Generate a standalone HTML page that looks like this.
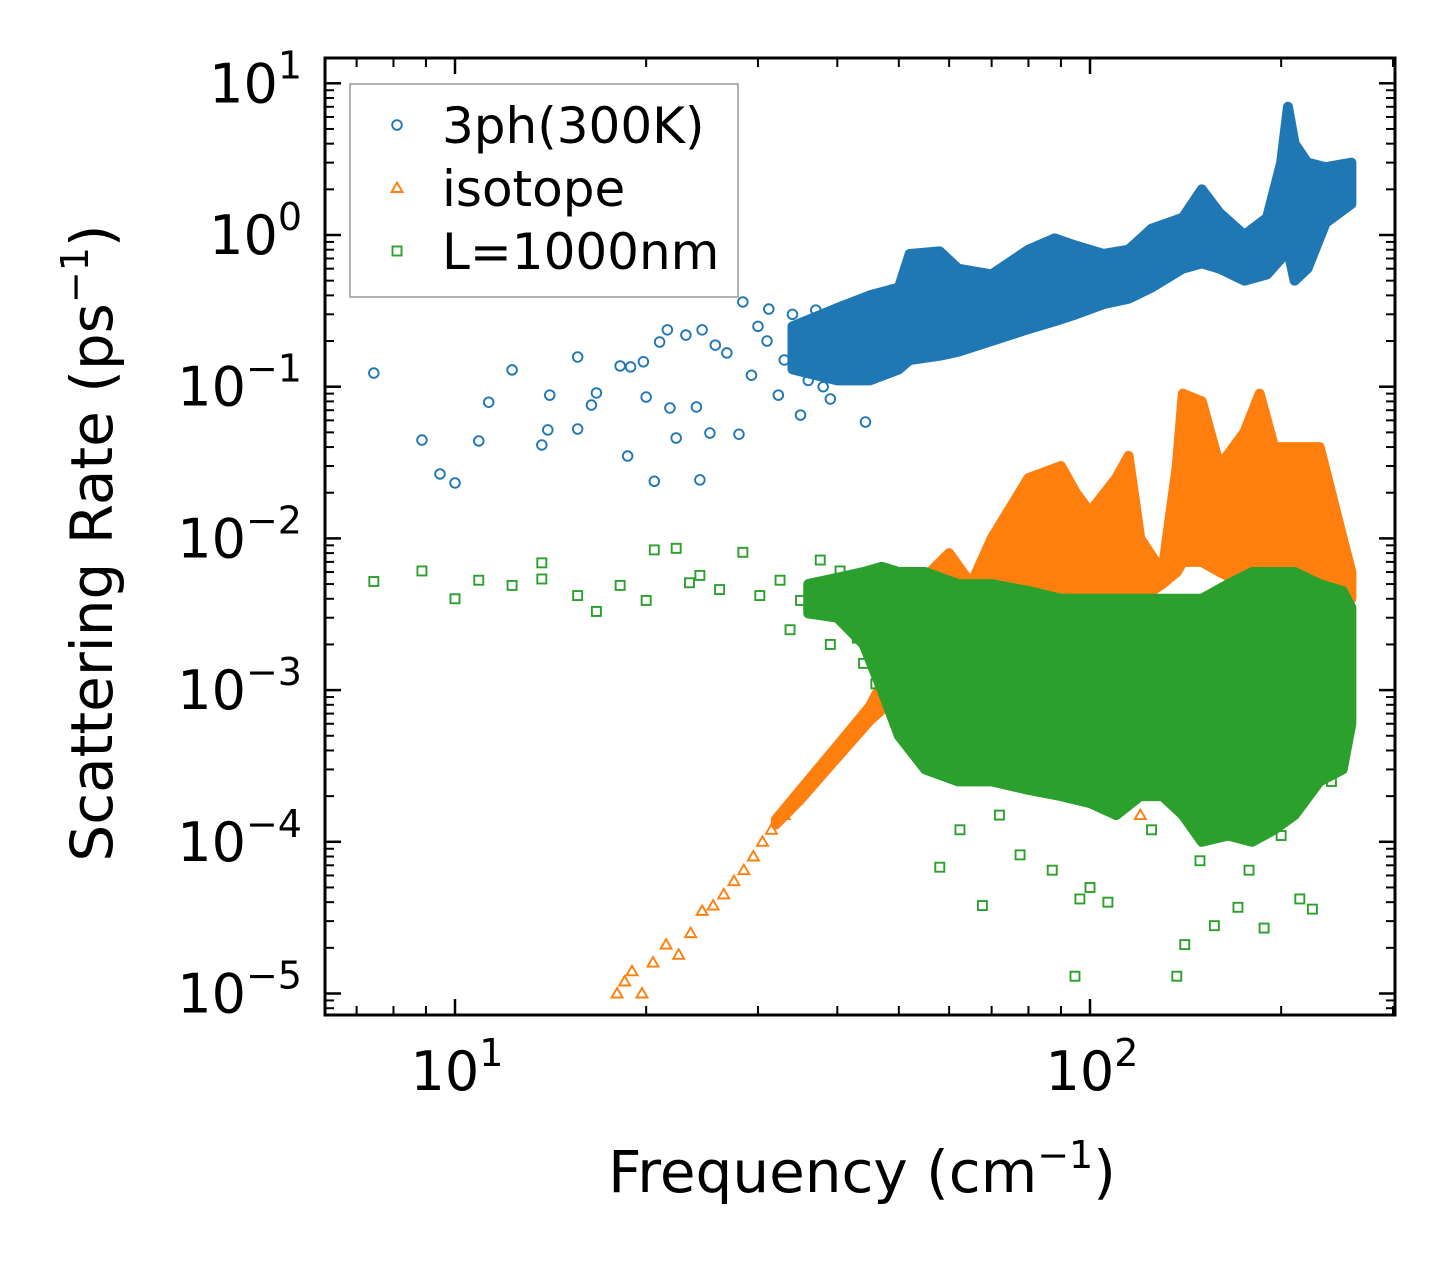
<!DOCTYPE html>
<html><head><meta charset="utf-8"><style>
html,body{margin:0;padding:0;background:#fff;}
svg{display:block;font-family:"DejaVu Sans","Liberation Sans",sans-serif;}
</style></head><body>
<svg id="chart" width="1455" height="1265" viewBox="0 0 1455 1265" xmlns="http://www.w3.org/2000/svg">
<defs><clipPath id="clip"><rect x="325" y="58" width="1070" height="957"/></clipPath></defs>
<rect x="0" y="0" width="1455" height="1265" fill="#fff"/>
<g id="plot" clip-path="url(#clip)"></g>
<g id="axes"></g>
<g id="legend"></g>
</svg>
<script>
// ---- data ----
const blueFreq = [7.45,8.87,9.47,10,10.9,11.3,12.3,13.7,14.0,14.1,15.6,15.6,16.4,16.7,18.2,18.7,18.9,19.8,20.0,20.6,21.0,21.6,21.8,22.3,23.1,24.0,24.3,24.5,25.2,25.7,26.8,28.0,28.4,29.3,31.2,32.3,35.0,39.0,44.3,30,31,33,34,36,37,38];
const blueVal = [0.123,0.0445,0.0266,0.0232,0.0439,0.079,0.129,0.0413,0.0519,0.088,0.157,0.0526,0.0757,0.0909,0.137,0.0349,0.135,0.146,0.0855,0.0238,0.197,0.237,0.0724,0.0459,0.219,0.0735,0.0243,0.237,0.0495,0.188,0.167,0.0486,0.362,0.119,0.325,0.088,0.065,0.083,0.0585,0.25,0.2,0.15,0.3,0.11,0.32,0.1];
const blueBandFreq = [34,40,45,50,52,58,62,70,80,88,95,105,115,125,140,150,160,175,190,200,205,210,220,235,258];
const blueBandLow  = [0.13,0.11,0.11,0.13,0.15,0.16,0.17,0.2,0.24,0.27,0.3,0.35,0.38,0.45,0.6,0.65,0.6,0.5,0.55,0.7,0.8,0.5,0.6,1.2,1.6];
const blueBandHigh = [0.25,0.33,0.4,0.45,0.75,0.78,0.6,0.55,0.8,0.95,0.85,0.75,0.8,1.1,1.3,2.0,1.4,1.0,1.3,3.0,7.0,4.0,3.0,2.8,3.0];

const orangeFreq = [18.0,18.5,19,19.7,20.5,21.5,22.5,23.5,24.5,25.5,26.5,27.5,28.5,29.5,30.5,31.5,33,34.5,36,37.5,39,40.5,42,43.5,45,46.5,48,120,130,100];
const orangeVal = [1.0e-5,1.2e-5,1.4e-5,1.0e-5,1.6e-5,2.1e-5,1.8e-5,2.5e-5,3.5e-5,3.8e-5,4.5e-5,5.5e-5,6.5e-5,8e-5,1.0e-4,1.2e-4,1.5e-4,1.9e-4,2.4e-4,2.9e-4,3.5e-4,4.2e-4,5.0e-4,6.0e-4,7e-4,8.5e-4,1.0e-3,1.5e-4,2.5e-4,3e-4];
const orangeBandFreq = [32,35,40,45,48,52,56,60,65,70,80,90,95,100,110,115,120,130,137,140,150,160,175,185,195,210,230,250,258];
const orangeBandLow  = [1.3e-4,1.9e-4,3.6e-4,6.3e-4,8e-4,8e-4,1e-3,1.5e-3,1.8e-3,2e-3,2.5e-3,3e-3,3e-3,3e-3,3e-3,3.5e-3,4e-3,5e-3,6e-3,7e-3,7e-3,6e-3,5e-3,4e-3,3e-3,3e-3,3e-3,3.5e-3,4e-3];
const orangeBandHigh = [1.4e-4,2.2e-4,4.3e-4,7.8e-4,1.3e-3,4e-3,6e-3,8e-3,5e-3,1e-2,2.5e-2,3e-2,2e-2,1.5e-2,2.5e-2,3.5e-2,1e-2,6e-3,3e-2,9e-2,8e-2,3e-2,5e-2,9e-2,4e-2,4e-2,4e-2,1e-2,6e-3];

const greenFreq = [7.45,8.87,10,10.9,12.3,13.7,13.7,15.6,16.7,18.2,20.0,20.6,22.3,24.3,28.4,23.4,26.1,30.2,32.5,35,37.6,40.4,41.8,33.7,39,62.4,67.7,77.6,87.2,100,96.4,106.7,94.7,141,137,157,171,188,214,224,149,178,58,72,125,200,240,255,44,46,43];
const greenVal = [5.2e-3,6.1e-3,4.0e-3,5.3e-3,4.9e-3,5.4e-3,6.9e-3,4.2e-3,3.3e-3,4.9e-3,3.9e-3,8.4e-3,8.6e-3,5.7e-3,8.1e-3,5.1e-3,4.6e-3,4.2e-3,5.3e-3,3.9e-3,7.2e-3,6.1e-3,3.9e-3,2.5e-3,2e-3,1.2e-4,3.8e-5,8.2e-5,6.5e-5,5e-5,4.2e-5,4e-5,1.3e-5,2.1e-5,1.3e-5,2.8e-5,3.7e-5,2.7e-5,4.2e-5,3.6e-5,7.5e-5,6.5e-5,6.8e-5,1.5e-4,1.2e-4,1.1e-4,2.5e-4,6e-4,1.5e-3,1.1e-3,2.2e-3];
const greenBandFreq = [36,40,44,47,50,55,62,70,80,90,100,110,120,130,140,150,165,180,195,210,230,250,258];
const greenBandLow  = [3.2e-3,3e-3,2e-3,1e-3,5e-4,3e-4,2.5e-4,2.5e-4,2.2e-4,2e-4,1.8e-4,1.5e-4,2e-4,2e-4,1.5e-4,1e-4,1.1e-4,1e-4,1.2e-4,1.5e-4,2.5e-4,3e-4,6e-4];
const greenBandHigh = [5e-3,5.5e-3,6e-3,6.5e-3,6e-3,6e-3,5e-3,5e-3,4.5e-3,4e-3,4e-3,4e-3,4e-3,4e-3,4e-3,4e-3,5e-3,6e-3,6e-3,6e-3,5e-3,4.5e-3,3.5e-3];

const yTickExp = [1,0,-1,-2,-3,-4,-5];
const xTickExp = [1,2];

// ---- axes functions ----
const L=325,R=1395,T=58,B=1015;
const X = f => 455 + 635*(Math.log10(f)-1);
const Y = v => 235 - 151.7*Math.log10(v);
const NS='http://www.w3.org/2000/svg';
function mk(tag, attrs, parent){const e=document.createElementNS(NS,tag);for(const k in attrs)e.setAttribute(k,attrs[k]);parent.appendChild(e);return e;}
const plot=document.getElementById('plot'), axes=document.getElementById('axes'), legend=document.getElementById('legend');
const C={b:'#1f77b4',o:'#ff7f0e',g:'#2ca02c'};

function band(fr,lo,hi,color,name){
  let pts=[];
  for(let i=0;i<fr.length;i++)pts.push(X(fr[i])+','+Y(hi[i]));
  for(let i=fr.length-1;i>=0;i--)pts.push(X(fr[i])+','+Y(lo[i]));
  const p=mk('polygon',{points:pts.join(' '),fill:color,stroke:color,'stroke-width':10,'stroke-linejoin':'round'},plot);
  
  
}
function marker(type,x,y,color,parent){
  let e;
  if(type==='c') e=mk('circle',{cx:x,cy:y,r:4.8,fill:'none',stroke:color,'stroke-width':1.9},parent);
  else if(type==='t') e=mk('polygon',{points:`${x},${y-5.5} ${x+5.5},${y+4} ${x-5.5},${y+4}`,fill:'none',stroke:color,'stroke-width':1.9},parent);
  else e=mk('rect',{x:x-4.5,y:y-4.5,width:9,height:9,fill:'none',stroke:color,'stroke-width':1.9},parent);
  return e;
}
function points(fr,va,type,color,name){
  for(let i=0;i<fr.length;i++){
    const e=marker(type,X(fr[i]),Y(va[i]),color,plot);
    
    
  }
}
band(blueBandFreq,blueBandLow,blueBandHigh,C.b,'3ph-dense-cloud');
points(blueFreq,blueVal,'c',C.b,'3ph-point');
band(orangeBandFreq,orangeBandLow,orangeBandHigh,C.o,'isotope-dense-cloud');
points(orangeFreq,orangeVal,'t',C.o,'isotope-point');
band(greenBandFreq,greenBandLow,greenBandHigh,C.g,'boundary-dense-cloud');
points(greenFreq,greenVal,'s',C.g,'boundary-point');

// frame
const fr=mk('rect',{x:L,y:T,width:R-L,height:B-T,fill:'none',stroke:'#000','stroke-width':3},axes);


function line(x1,y1,x2,y2,w){mk('line',{x1,y1,x2,y2,stroke:'#000','stroke-width':w},axes);}
for(let e=-6;e<=1;e++){
  for(let m=1;m<10;m++){
    const y=Y(m*Math.pow(10,e));
    if(y<T||y>B)continue;
    const len=m===1?16:9, w=m===1?2.5:2;
    line(L,y,L+len,y,w); line(R,y,R-len,y,w);
  }
}
for(let e=0;e<=2;e++){
  for(let m=1;m<10;m++){
    const x=X(m*Math.pow(10,e));
    if(x<L||x>R)continue;
    const len=m===1?16:9, w=m===1?2.5:2;
    line(x,B,x,B-len,w); line(x,T,x,T+len,w);
  }
}
function pow10Label(x,y,exp,anchor,name){
  const t=mk('text',{x:x,y:y,'font-size':54,'text-anchor':anchor,fill:'#000'},axes);
  
  
  const a=document.createElementNS(NS,'tspan');a.textContent='10';t.appendChild(a);
  const b=document.createElementNS(NS,'tspan');b.setAttribute('dy','-24');b.setAttribute('font-size','38');
  b.textContent=String(exp).replace('-','\u2212');t.appendChild(b);
}
yTickExp.forEach(e=>pow10Label(302,Y(Math.pow(10,e))+19,e,'end','y-tick-label'));
xTickExp.forEach(e=>pow10Label(X(Math.pow(10,e))+2,1090,e,'middle','x-tick-label'));

const xl=mk('text',{x:862,y:1192,'font-size':58,'text-anchor':'middle'},axes);


xl.innerHTML='Frequency (cm<tspan dy="-24" font-size="38">\u22121</tspan><tspan dy="24">)</tspan>';
const yl=mk('text',{x:0,y:0,'font-size':58,'text-anchor':'middle',transform:'translate(112,543) rotate(-90)'},axes);


yl.innerHTML='Scattering Rate (ps<tspan dy="-24" font-size="38">\u22121</tspan><tspan dy="24">)</tspan>';

// legend
const lb=mk('rect',{x:350,y:84,width:388,height:213,fill:'#fff','fill-opacity':0.8,stroke:'#999','stroke-width':1.5},legend);


const entries=[['c',C.b,'3ph(300K)'],['t',C.o,'isotope'],['s',C.g,'L=1000nm']];
entries.forEach((en,i)=>{
  const y=125+i*63;
  const g=mk('g',{},legend);
  
  
  marker(en[0],397,y,en[1],g);
  const t=mk('text',{x:442,y:y+18,'font-size':50,fill:'#000'},g);
  t.textContent=en[2];
});
</script>
</body></html>
